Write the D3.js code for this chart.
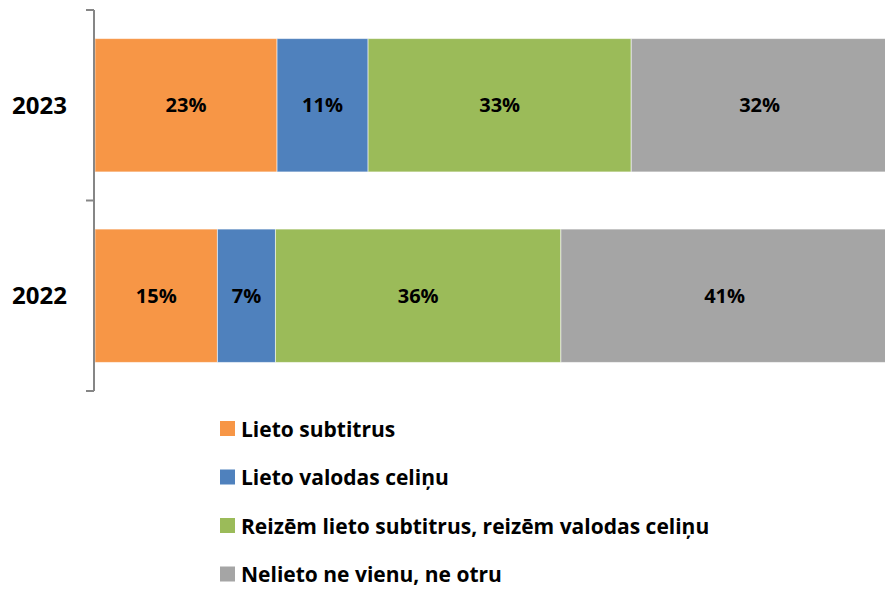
<!DOCTYPE html>
<html lang="lv">
<head>
    <meta charset="UTF-8">
    <title>Subtitri un valodas celiņi</title>
    <style>
        body { margin: 0; background: #fff; }
        svg { display: block; font-family: "Open Sans", "Noto Sans", sans-serif; }
    </style>
</head>
<body>
    <svg id="chart" width="885" height="589"></svg>

    <script src="https://d3js.org/d3.v7.min.js"></script>
    <script>
        // Data
        const years = ["2023", "2022"];
        const seriesNames = [
            "Lieto subtitrus",
            "Lieto valodas celiņu",
            "Reizēm lieto subtitrus, reizēm valodas celiņu",
            "Nelieto ne vienu, ne otru"
        ];
        const seriesColors = ["#F79646", "#4F81BD", "#9BBB59", "#A5A5A5"];
        const values2023 = [22.9, 11.45, 33.1, 32.3];
        const values2022 = [15.4, 7.3, 35.9, 41.2];
        const valuesByYear = { "2023": values2023, "2022": values2022 };

        const svg = d3.select("#chart");

        // Scales
        const x = d3.scaleLinear().domain([0, 100]).range([95, 890]);
        const y = d3.scaleBand()
            .domain(years)
            .range([10, 391])
            .paddingInner(0.3)
            .paddingOuter(0.15);
        const step = y.step();

        // Build stacked rows
        const rows = years.map(yr => {
            let acc = 0;
            return valuesByYear[yr].map((v, i) => {
                const seg = { year: yr, i: i, v: v, x0: acc, x1: acc + v };
                acc += v;
                return seg;
            });
        });

        const bars = svg.append("g");
        rows.forEach(row => {
            const g = bars.append("g");
            g.selectAll("rect")
                .data(row)
                .enter()
                .append("rect")
                .attr("x", d => x(d.x0))
                .attr("y", d => y(d.year))
                .attr("width", d => x(d.x1) - x(d.x0))
                .attr("height", y.bandwidth())
                .attr("fill", d => seriesColors[d.i])
                .attr("stroke", "rgba(255,255,255,0.55)")
                .attr("stroke-width", 1);

            g.selectAll("text")
                .data(row)
                .enter()
                .append("text")
                .attr("x", d => (x(d.x0) + x(d.x1)) / 2)
                .attr("y", d => y(d.year) + y.bandwidth() / 2)
                .attr("dy", "0.36em")
                .attr("text-anchor", "middle")
                .attr("font-size", 20)
                .attr("font-weight", "bold")
                .attr("fill", "#000")
                .text(d => Math.round(d.v) + "%");
        });

        // Category axis (ticks at band boundaries)
        const axis = svg.append("g").attr("stroke", "#868686").attr("stroke-width", 2);
        const [r0, r1] = y.range();
        axis.append("line")
            .attr("x1", 94).attr("x2", 94)
            .attr("y1", r0).attr("y2", r1);
        const bounds = years.map((yr, i) => r0 + i * step).concat([r1]);
        axis.selectAll(".tick")
            .data(bounds)
            .enter()
            .append("line")
            .attr("class", "tick")
            .attr("x1", 86).attr("x2", 94)
            .attr("y1", d => d).attr("y2", d => d);

        svg.append("g").selectAll("text")
            .data(years)
            .enter()
            .append("text")
            .attr("x", 67)
            .attr("y", d => y(d) + y.bandwidth() / 2)
            .attr("dy", "0.36em")
            .attr("text-anchor", "end")
            .attr("font-size", 24)
            .attr("font-weight", "bold")
            .text(d => d);

        // Legend
        const legend = svg.append("g").attr("transform", "translate(220, 429)");
        const item = legend.selectAll("g")
            .data(seriesNames)
            .enter()
            .append("g")
            .attr("transform", (d, i) => `translate(0, ${i * 48.5})`);
        item.append("rect")
            .attr("x", 0).attr("y", -8)
            .attr("width", 15).attr("height", 15)
            .attr("fill", (d, i) => seriesColors[i]);
        item.append("text")
            .attr("x", 21)
            .attr("dy", "0.36em")
            .attr("font-size", 21)
            .attr("font-weight", "bold")
            .text(d => d);
    </script>
</body>
</html>
